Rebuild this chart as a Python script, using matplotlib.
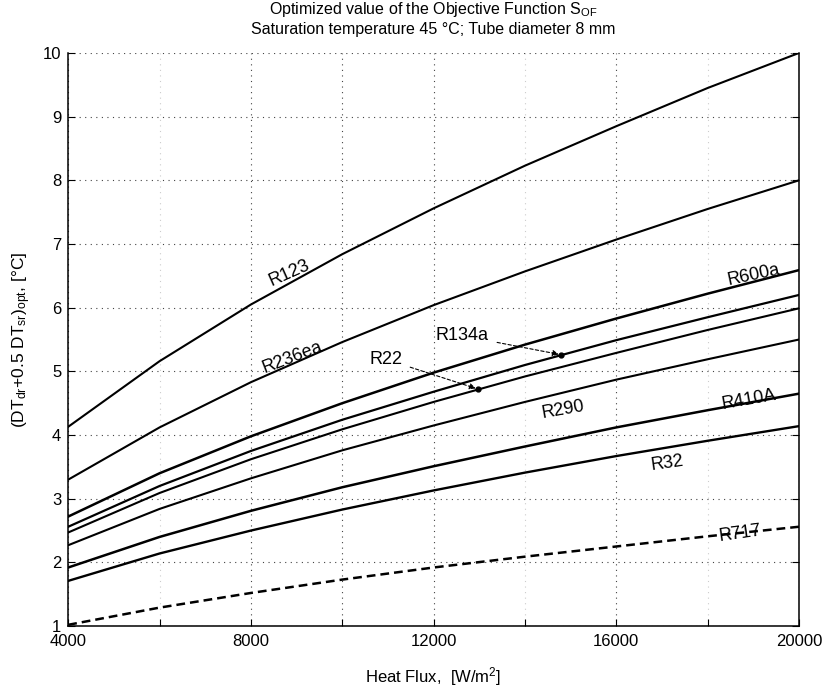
import numpy as np
import matplotlib.pyplot as plt

plt.rcParams['font.family'] = ['Liberation Sans', 'DejaVu Sans']
plt.rcParams['mathtext.fontset'] = 'custom'
plt.rcParams['mathtext.rm'] = 'Liberation Sans'
plt.rcParams['mathtext.it'] = 'Liberation Sans'

# heat flux [W/m2]
heat_flux = [4000, 6000, 8000, 10000, 12000, 14000, 16000, 18000, 20000]

# (DT_dr + 0.5 DT_sr)_opt [C]
r123 = [4.13, 5.16, 6.05, 6.84, 7.56, 8.23, 8.85, 9.45, 10.0]
r236ea = [3.30, 4.12, 4.83, 5.46, 6.04, 6.57, 7.07, 7.55, 8.00]
r600a = [2.72, 3.40, 3.98, 4.50, 4.98, 5.42, 5.83, 6.22, 6.59]
r134a = [2.56, 3.20, 3.75, 4.24, 4.68, 5.10, 5.49, 5.85, 6.20]
r22 = [2.47, 3.09, 3.62, 4.09, 4.52, 4.92, 5.29, 5.65, 5.99]
r290 = [2.27, 2.84, 3.32, 3.76, 4.15, 4.52, 4.87, 5.19, 5.50]
r410a = [1.92, 2.40, 2.81, 3.18, 3.51, 3.82, 4.12, 4.39, 4.65]
r32 = [1.71, 2.14, 2.50, 2.83, 3.13, 3.41, 3.67, 3.91, 4.14]
r717 = [1.02, 1.29, 1.52, 1.73, 1.92, 2.09, 2.25, 2.41, 2.56]

x_ticks = [4000, 6000, 8000, 10000, 12000, 14000, 16000, 18000, 20000]
x_tick_labels = ['4000', '', '8000', '', '12000', '', '16000', '', '20000']
faint_x = [6000, 14000, 18000]
y_ticks = [1, 2, 3, 4, 5, 6, 7, 8, 9, 10]

fig = plt.figure(figsize=(8.22, 6.88), dpi=100)
ax = fig.add_axes([0.083, 0.090, 0.889, 0.833])

solid = [r123, r236ea, r600a, r134a, r22, r290, r410a, r32]
widths = [1.5, 1.5, 1.8, 1.6, 1.5, 1.5, 1.8, 1.7]
for ys, lw in zip(solid, widths):
    ax.plot(heat_flux, ys, color='black', lw=lw)
ax.plot(heat_flux, r717, color='black', lw=1.8, ls=(0, (3.5, 2)))

ax.set_xlim(4000, 20000)
ax.set_ylim(1, 10)
ax.set_xticks(x_ticks)
ax.set_xticklabels(x_tick_labels)
ax.set_yticks(y_ticks)
ax.tick_params(direction='in', length=5, labelsize=12, right=True, top=False)
ax.tick_params(axis='x', pad=6)
ax.tick_params(axis='y', pad=5)
ax.spines['top'].set_visible(False)
for s in ['left', 'right', 'bottom']:
    ax.spines[s].set_linewidth(1.1)

ax.grid(True, color='#444444', lw=0.8, ls=(0, (1, 4)))
# the scan shows some vertical grid lines only faintly
for tick, gl, tl in zip(x_ticks, ax.get_xgridlines(), ax.xaxis.get_major_ticks()):
    if tick in faint_x:
        gl.set_color('#cccccc')
        tl.tick1line.set_color('#bbbbbb')

ax.set_title('Optimized value of the Objective Function S$_{\\rm OF}$\n'
             'Saturation temperature 45 °C; Tube diameter 8 mm',
             fontsize=11.5, linespacing=1.2, pad=14)
ax.set_xlabel('Heat Flux,  [W/m$^2$]', fontsize=12, labelpad=11)
ax.set_ylabel('(DT$_{\\rm dr}$+0.5 DT$_{\\rm sr}$)$_{\\rm opt}$, [°C]', fontsize=12.5, labelpad=7)

lab = dict(fontsize=13, ha='center', va='center')
ax.text(8850, 6.54, 'R123', rotation=24, **lab)
ax.text(8900, 5.22, 'R236ea', rotation=21, **lab)
ax.text(19000, 6.51, 'R600a', rotation=12, **lab)
ax.text(14840, 4.39, 'R290', rotation=10, **lab)
ax.text(18900, 4.56, 'R410A', rotation=10, **lab)
ax.text(17120, 3.56, 'R32', rotation=8, **lab)
ax.text(18700, 2.45, 'R717', rotation=8, **lab)

arrow = dict(arrowstyle='-|>', color='black', lw=0.8, ls=(0, (3, 2)), mutation_scale=9,
             shrinkA=4, shrinkB=2)
ax.annotate('R134a', xy=(14800, 5.26), xytext=(12630, 5.56), fontsize=13,
            ha='center', va='center', arrowprops=arrow)
ax.annotate('R22', xy=(12980, 4.72), xytext=(10950, 5.19), fontsize=13,
            ha='center', va='center', arrowprops=arrow)
ax.plot([14800, 12980], [5.26, 4.72], 'o', color='black', ms=3.5)

fig.savefig('out.png', dpi=100)
